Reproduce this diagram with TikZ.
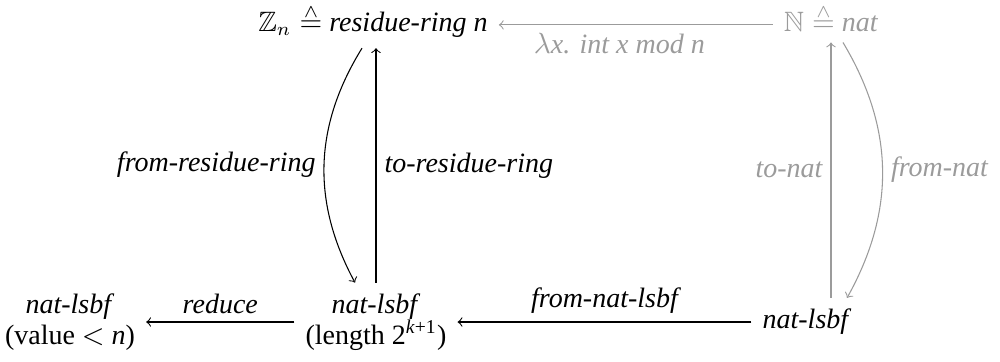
\documentclass[tikz,border=0pt]{standalone}
\usepackage{amssymb}
\usepackage{fontspec}
\setmainfont{Liberation Serif}
\usetikzlibrary{calc}
\definecolor{lg}{RGB}{155,155,155}
\newcommand{\hateq}{\mathrel{\stackrel{\raisebox{-2.2pt}{$\scriptstyle\wedge$}}{=}}}
\begin{document}
\begin{tikzpicture}[x=0.375pt,y=-0.375pt,
  obj/.style={inner sep=4pt, font=\fontsize{10.5}{11.5}\selectfont, align=center},
  lbl/.style={font=\fontsize{10.5}{11.5}\selectfont\itshape, inner sep=3pt},
  arr/.style={->, line width=0.4pt},
  faint/.style={draw=lg, text=lg}]
\useasboundingbox (0,0) rectangle (1000,361);
% objects
\node[obj, anchor=base] (zn) at (373,31) {$\mathbb{Z}_n \hateq$ \textit{residue-ring n}};
\node[obj, anchor=base, text=lg] (N) at (831,31) {$\mathbb{N} \hateq$ \textit{nat}};
\node[obj] (bl) at (70,322) {\textit{nat-lsbf}\\(value $<$ \textit{n})};
\node[obj] (bm) at (376,322) {\textit{nat-lsbf}\\(length 2\textsuperscript{\textit{k}+1})};
\node[obj] (br) at (807,322) {\textit{nat-lsbf}};
% connectors
\draw[arr, faint] (N.mid west) -- node[lbl, below, pos=0.56] {$\lambda$x. int x mod n} (zn.mid east);
\draw[arr] (bm.west) -- node[lbl, above] {reduce} (bl.east);
\draw[arr] (br.west) -- node[lbl, above] {from-nat-lsbf} (bm.east);
\draw[arr] (bm.north) -- node[lbl, right] {to-residue-ring} (bm.north |- zn.south);
\draw[arr] ($(zn.south)+(-11,0)$) to[bend right=30] node[lbl, left] {from-residue-ring} ($(bm.north)+(-21,0)$);
\draw[arr, faint] (N.south |- br.north) -- node[lbl, left] {to-nat} (N.south);
\draw[arr, faint] ($(N.south)+(12,0)$) to[bend left=30] node[lbl, right] {from-nat} ($(br.north)+(40,0)$);
\end{tikzpicture}
\end{document}
